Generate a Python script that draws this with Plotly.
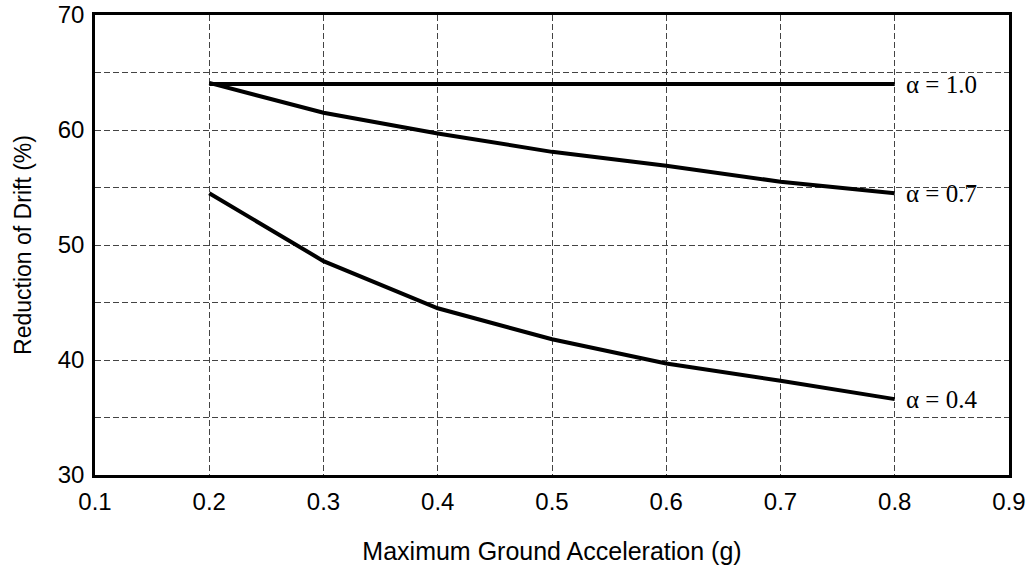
import plotly.graph_objects as go

accel = [0.2, 0.3, 0.4, 0.5, 0.6, 0.7, 0.8]
drift_a10 = [64.0, 64.0, 64.0, 64.0, 64.0, 64.0, 64.0]
drift_a07 = [64.1, 61.5, 59.7, 58.1, 56.9, 55.5, 54.5]
drift_a04 = [54.5, 48.6, 44.5, 41.8, 39.7, 38.2, 36.6]
series_labels = ["\u03b1 = 1.0", "\u03b1 = 0.7", "\u03b1 = 0.4"]
x_ticks = [0.1, 0.2, 0.3, 0.4, 0.5, 0.6, 0.7, 0.8, 0.9]
y_ticks = [30, 40, 50, 60, 70]

SANS = "Liberation Sans, Arial, sans-serif"
SERIF = "Liberation Serif, Times New Roman, serif"

fig = go.Figure()
for ys, lab in zip([drift_a10, drift_a07, drift_a04], series_labels):
    fig.add_trace(go.Scatter(x=accel, y=ys, mode="lines", name=lab,
                             line=dict(color="black", width=4), showlegend=False))
    fig.add_annotation(x=accel[-1], y=ys[-1], text=lab, showarrow=False,
                       xanchor="left", yanchor="middle", xshift=9,
                       font=dict(family=SERIF, size=25, color="black"))

axis_common = dict(showline=True, linecolor="black", linewidth=2.5, mirror=True, automargin=False,
                   showgrid=True, gridcolor="#444444", gridwidth=1, griddash="6px,3px",
                   zeroline=False, ticks="outside", ticklen=3, tickcolor="rgba(0,0,0,0)",
                   tickfont=dict(family=SANS, size=24, color="black"))

fig.update_xaxes(range=[0.1, 0.9], tickvals=x_ticks, ticktext=[f"{v:.1f}" for v in x_ticks],
                 title=dict(text="Maximum Ground Acceleration (g)", standoff=30,
                            font=dict(family=SANS, size=25, color="black")),
                 **axis_common)
fig.update_yaxes(range=[30, 70], tickvals=y_ticks,
                 minor=dict(dtick=5, tick0=30, showgrid=True, gridcolor="#444444", gridwidth=1, griddash="6px,3px", ticklen=0),
                 title=dict(text="Reduction of Drift (%)", standoff=20,
                            font=dict(family=SANS, size=23, color="black")),
                 **axis_common)

fig.update_layout(width=1030, height=565, margin=dict(l=95, r=21, t=15, b=90),
                  paper_bgcolor="white", plot_bgcolor="white")
fig.write_html("out.html", config={"displayModeBar": False},
               post_script="document.body.style.margin='0';")
